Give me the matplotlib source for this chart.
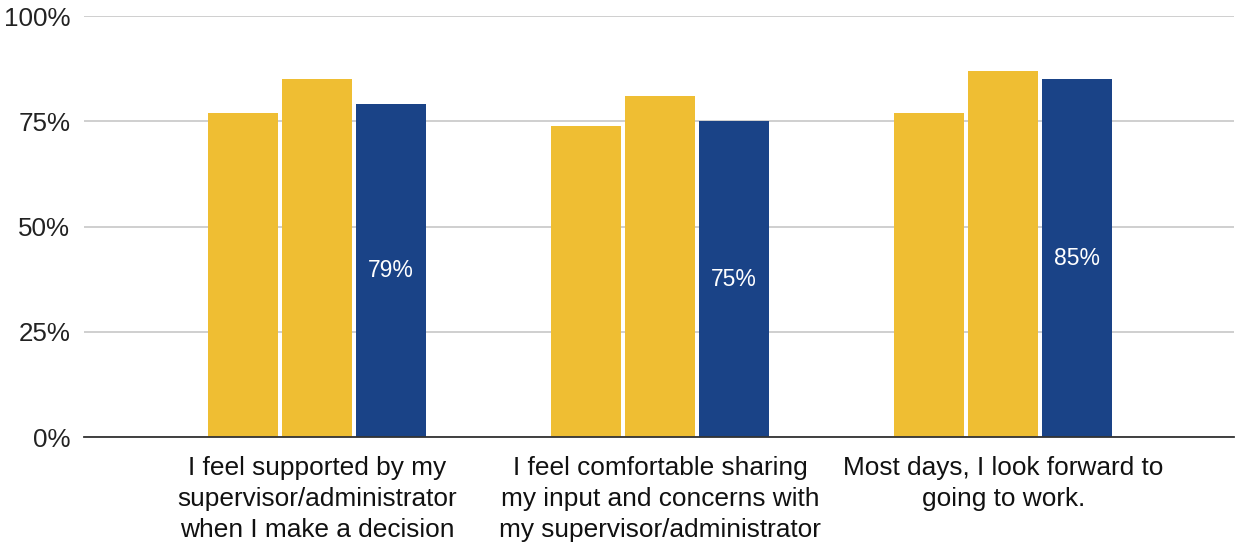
import numpy as np
import matplotlib.pyplot as plt

# ─────────────────────────────────────────────
# DATA
# ─────────────────────────────────────────────
categories = [
    "I feel supported by my\nsupervisor/administrator\nwhen I make a decision",
    "I feel comfortable sharing\nmy input and concerns with\nmy supervisor/administrator",
    "Most days, I look forward to\ngoing to work.",
]
series_1 = [77, 74, 77]
series_2 = [85, 81, 87]
series_3 = [79, 75, 85]          # highlighted series, labelled inside bars
yticks   = [0, 25, 50, 75, 100]

YELLOW = "#EFBE33"
BLUE   = "#1A4387"

plt.rcParams["font.family"] = ["Liberation Sans", "DejaVu Sans"]

fig = plt.figure(figsize=(12.36, 5.43), dpi=100)
ax = fig.add_axes([0.068, 0.195, 0.9305, 0.7755])

x = np.arange(len(categories))
w, step = 0.203, 0.216

ax.bar(x - step, series_1, width=w, color=YELLOW, zorder=3)
ax.bar(x,        series_2, width=w, color=YELLOW, zorder=3)
bars = ax.bar(x + step, series_3, width=w, color=BLUE, zorder=3)

for b, v in zip(bars, series_3):
    ax.text(b.get_x() + b.get_width() / 2, v / 2, f"{v}%",
            ha="center", va="center", color="white", fontsize=16.5, zorder=4)

ax.set_ylim(0, 100)
ax.set_xlim(-0.6785, 2.673)
ax.set_yticks(yticks)
ax.set_yticklabels([f"{t}%" for t in yticks], fontsize=18.7, color="#222222")
ax.set_xticks(x)
ax.set_xticklabels(categories, fontsize=18.9, color="#111111", linespacing=1.38)
ax.tick_params(axis="both", length=0)
ax.tick_params(axis="x", pad=13.5)
ax.tick_params(axis="y", pad=10)

ax.grid(axis="y", color="#CCCCCC", linewidth=1.3, zorder=0)
for s in ["top", "right", "left"]:
    ax.spines[s].set_visible(False)
ax.spines["bottom"].set_color("#333333")
ax.spines["bottom"].set_linewidth(1.3)
ax.spines["bottom"].set_zorder(5)

plt.savefig("out.png", dpi=100)
plt.close()
